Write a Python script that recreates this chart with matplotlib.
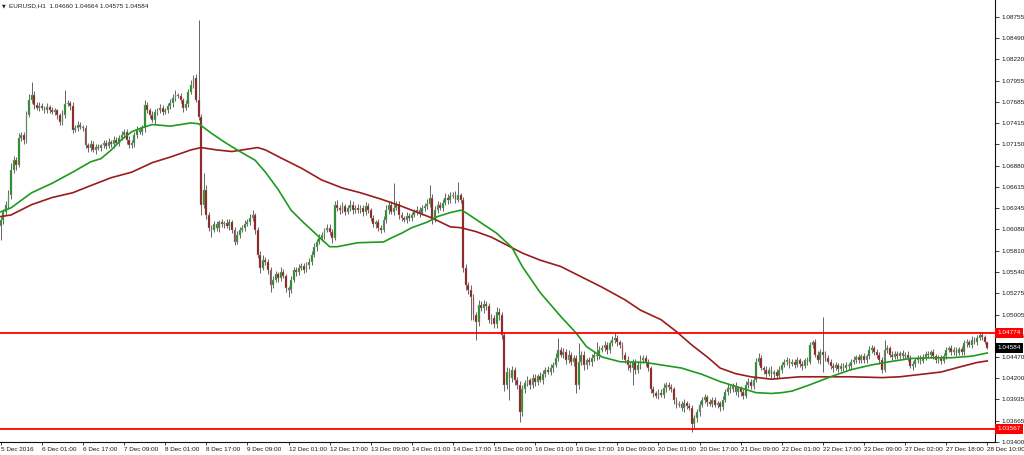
import numpy as np
import matplotlib
matplotlib.use('Agg')
import matplotlib.pyplot as plt
import matplotlib.transforms as mtransforms

plt.rcParams['font.family'] = ['Liberation Sans', 'DejaVu Sans']

header = 'EURUSD,H1  1.04660 1.04664 1.04575 1.04584'

# H1 closes (4 parts, each starts at a time label)
first_open = 1.0612
close_part1 = [  # 5 Dec 09:00 .. 9 Dec 08:00
    1.0620, 1.0630, 1.0639, 1.0651, 1.0683, 1.0695, 1.0689, 1.0723, 1.0727, 1.0721, 1.0752, 1.0771, 1.0777, 1.0765, 1.0761, 1.0763,
    1.0761, 1.0758, 1.0762, 1.0758, 1.0756, 1.0758, 1.0752, 1.0743, 1.0752, 1.0766, 1.0767, 1.0763, 1.0733, 1.0736, 1.0740, 1.0737,
    1.0736, 1.0714, 1.0711, 1.0716, 1.0708, 1.0712, 1.0711, 1.0714, 1.0717, 1.0713, 1.0718, 1.0716, 1.0721, 1.0717, 1.0723, 1.0727,
    1.0731, 1.0721, 1.0714, 1.0717, 1.0727, 1.0733, 1.0731, 1.0736, 1.0765, 1.0758, 1.0752, 1.0746, 1.0756, 1.0758, 1.0761, 1.0756,
    1.0758, 1.0763, 1.0767, 1.0774, 1.0777, 1.0776, 1.0771, 1.0761, 1.0766, 1.0781, 1.0790, 1.0799, 1.0771, 1.0750, 1.0639, 1.0658,
    1.0626, 1.0610, 1.0607, 1.0614, 1.0610, 1.0617, 1.0614, 1.0616, 1.0612, 1.0617, 1.0607, 1.0592, 1.0601, 1.0607, 1.0610, 1.0615,
]
close_part2 = [  # 9 Dec 09:00 .. 15 Dec 08:00
    1.0617, 1.0622, 1.0626, 1.0607, 1.0576, 1.0559, 1.0569, 1.0567, 1.0557, 1.0538, 1.0544, 1.0551, 1.0547, 1.0554, 1.0549, 1.0534,
    1.0532, 1.0544, 1.0557, 1.0554, 1.0559, 1.0562, 1.0557, 1.0563, 1.0567, 1.0576, 1.0585, 1.0592, 1.0597, 1.0601, 1.0607, 1.0610,
    1.0605, 1.0597, 1.0639, 1.0635, 1.0632, 1.0637, 1.0630, 1.0635, 1.0639, 1.0632, 1.0635, 1.0632, 1.0635, 1.0630, 1.0637, 1.0632,
    1.0622, 1.0614, 1.0617, 1.0610, 1.0607, 1.0620, 1.0632, 1.0639, 1.0630, 1.0635, 1.0640, 1.0626, 1.0622, 1.0620, 1.0625, 1.0622,
    1.0626, 1.0630, 1.0632, 1.0629, 1.0635, 1.0637, 1.0640, 1.0648, 1.0620, 1.0632, 1.0639, 1.0635, 1.0641, 1.0648, 1.0645, 1.0650,
    1.0651, 1.0645, 1.0651, 1.0645, 1.0559, 1.0538, 1.0532, 1.0522, 1.0500, 1.0491, 1.0513, 1.0509, 1.0514, 1.0511, 1.0494, 1.0496,
]
close_part3 = [  # 15 Dec 09:00 .. 21 Dec 08:00
    1.0488, 1.0504, 1.0500, 1.0475, 1.0412, 1.0428, 1.0421, 1.0431, 1.0418, 1.0412, 1.0378, 1.0406, 1.0414, 1.0418, 1.0412, 1.0421,
    1.0416, 1.0423, 1.0418, 1.0426, 1.0431, 1.0428, 1.0433, 1.0437, 1.0446, 1.0456, 1.0450, 1.0453, 1.0443, 1.0450, 1.0441, 1.0446,
    1.0412, 1.0441, 1.0450, 1.0437, 1.0443, 1.0441, 1.0446, 1.0450, 1.0448, 1.0456, 1.0458, 1.0462, 1.0456, 1.0464, 1.0469, 1.0471,
    1.0466, 1.0462, 1.0450, 1.0443, 1.0437, 1.0433, 1.0441, 1.0431, 1.0437, 1.0443, 1.0446, 1.0441, 1.0433, 1.0406, 1.0401, 1.0398,
    1.0402, 1.0399, 1.0408, 1.0412, 1.0409, 1.0406, 1.0393, 1.0387, 1.0388, 1.0383, 1.0389, 1.0385, 1.0383, 1.0362, 1.0370, 1.0377,
    1.0387, 1.0393, 1.0396, 1.0390, 1.0388, 1.0393, 1.0387, 1.0389, 1.0384, 1.0393, 1.0403, 1.0408, 1.0406, 1.0411, 1.0403, 1.0408,
]
close_part4 = [  # 21 Dec 09:00 .. 28 Dec 10:00
    1.0403, 1.0398, 1.0412, 1.0416, 1.0411, 1.0418, 1.0441, 1.0446, 1.0433, 1.0431, 1.0426, 1.0431, 1.0425, 1.0428, 1.0423, 1.0431,
    1.0437, 1.0441, 1.0443, 1.0438, 1.0441, 1.0437, 1.0443, 1.0438, 1.0436, 1.0443, 1.0441, 1.0462, 1.0466, 1.0450, 1.0443, 1.0453,
    1.0450, 1.0446, 1.0441, 1.0436, 1.0433, 1.0437, 1.0432, 1.0436, 1.0433, 1.0437, 1.0435, 1.0441, 1.0443, 1.0447, 1.0443, 1.0448,
    1.0443, 1.0448, 1.0456, 1.0458, 1.0453, 1.0450, 1.0443, 1.0431, 1.0456, 1.0458, 1.0450, 1.0447, 1.0451, 1.0448, 1.0452, 1.0448,
    1.0450, 1.0446, 1.0436, 1.0438, 1.0443, 1.0446, 1.0442, 1.0447, 1.0451, 1.0450, 1.0453, 1.0448, 1.0443, 1.0446, 1.0442, 1.0448,
    1.0456, 1.0458, 1.0453, 1.0456, 1.0452, 1.0457, 1.0453, 1.0464, 1.0466, 1.0462, 1.0469, 1.0466, 1.0471, 1.0475, 1.0472, 1.0466,
    1.04584,
]

# wick lengths beyond the body, in pips
up_part1 = [
    3, 4, 5, 6, 8, 5, 4, 6, 4, 3, 5, 8, 16, 5, 4, 6,
    4, 3, 5, 3, 4, 3, 2, 3, 6, 18, 4, 3, 5, 3, 4, 3,
    3, 4, 3, 5, 3, 4, 3, 2, 4, 3, 5, 3, 4, 3, 4, 5,
    4, 3, 5, 4, 3, 5, 4, 3, 6, 4, 3, 5, 4, 3, 5, 4,
    3, 4, 5, 4, 6, 3, 4, 3, 5, 4, 6, 4, 5, 101, 3, 21,
    6, 4, 3, 5, 4, 3, 4, 3, 5, 4, 3, 4, 5, 4, 3, 5,
]
up_part2 = [
    4, 5, 6, 3, 4, 5, 6, 4, 3, 4, 5, 4, 3, 6, 4, 3,
    3, 5, 4, 3, 5, 4, 3, 4, 5, 4, 6, 4, 5, 4, 3, 5,
    4, 3, 5, 6, 4, 5, 3, 4, 6, 4, 3, 5, 4, 3, 5, 4,
    3, 4, 3, 4, 3, 5, 6, 4, 5, 31, 4, 3, 4, 3, 5, 4,
    4, 3, 5, 4, 3, 4, 6, 16, 4, 5, 4, 3, 5, 6, 4, 5,
    4, 5, 17, 3, 4, 5, 4, 6, 5, 4, 6, 4, 5, 3, 4, 5,
]
up_part3 = [
    4, 6, 5, 4, 3, 6, 5, 4, 3, 4, 5, 6, 4, 5, 3, 4,
    4, 3, 5, 4, 3, 4, 5, 4, 6, 15, 4, 5, 4, 6, 3, 4,
    3, 24, 5, 4, 3, 4, 5, 4, 16, 5, 4, 5, 4, 3, 5, 6,
    4, 3, 4, 3, 5, 4, 3, 4, 5, 6, 4, 3, 4, 3, 4, 3,
    4, 5, 6, 4, 3, 4, 3, 4, 3, 4, 5, 3, 4, 3, 4, 5,
    4, 3, 4, 3, 4, 3, 4, 3, 3, 5, 4, 5, 4, 3, 4, 3,
]
up_part4 = [
    3, 4, 5, 4, 3, 4, 5, 6, 4, 3, 4, 3, 4, 3, 4, 5,
    4, 3, 4, 3, 4, 3, 4, 3, 4, 3, 4, 4, 3, 4, 5, 4,
    45, 4, 3, 4, 3, 4, 3, 4, 3, 4, 3, 4, 5, 3, 4, 3,
    4, 3, 5, 4, 3, 4, 3, 4, 13, 4, 3, 4, 3, 4, 3, 4,
    3, 4, 3, 4, 3, 4, 3, 4, 3, 4, 3, 4, 3, 4, 3, 4,
    4, 3, 4, 3, 4, 3, 4, 5, 4, 3, 4, 3, 4, 4, 3, 3,
    0.4,
]
down_part1 = [
    17, 5, 4, 6, 5, 4, 6, 3, 4, 5, 4, 3, 4, 5, 3, 4,
    3, 4, 3, 4, 3, 4, 5, 4, 3, 4, 3, 5, 4, 3, 4, 3,
    4, 3, 5, 4, 3, 5, 3, 4, 3, 4, 3, 4, 5, 3, 4, 3,
    4, 5, 4, 3, 5, 4, 3, 4, 5, 3, 4, 3, 5, 4, 3, 4,
    3, 4, 3, 5, 4, 3, 4, 5, 3, 4, 3, 4, 3, 4, 13, 4,
    5, 4, 9, 3, 4, 5, 3, 4, 3, 5, 4, 4, 3, 4, 3, 4,
]
down_part2 = [
    3, 4, 3, 5, 4, 6, 3, 4, 5, 9, 4, 3, 5, 4, 3, 5,
    9, 4, 3, 5, 4, 3, 4, 3, 5, 4, 3, 4, 3, 4, 5, 3,
    4, 6, 3, 4, 5, 3, 4, 3, 4, 5, 3, 4, 3, 5, 4, 3,
    4, 3, 5, 4, 4, 3, 4, 5, 3, 4, 3, 5, 4, 3, 4, 3,
    4, 3, 4, 5, 3, 4, 3, 4, 5, 3, 4, 3, 4, 3, 5, 4,
    3, 4, 3, 4, 5, 6, 5, 28, 6, 22, 5, 4, 6, 5, 4, 5,
]
down_part3 = [
    5, 4, 6, 5, 8, 6, 28, 5, 6, 5, 13, 6, 5, 4, 5, 4,
    5, 4, 3, 5, 4, 3, 4, 5, 3, 4, 3, 4, 5, 3, 4, 5,
    10, 5, 4, 6, 5, 4, 5, 4, 5, 4, 3, 4, 5, 4, 3, 4,
    5, 4, 5, 4, 6, 5, 21, 6, 4, 5, 4, 5, 4, 5, 4, 3,
    4, 3, 4, 5, 4, 3, 5, 4, 3, 4, 5, 4, 3, 9, 4, 5,
    4, 3, 4, 5, 3, 4, 3, 4, 5, 4, 3, 4, 5, 3, 4, 6,
]
down_part4 = [
    5, 4, 3, 4, 5, 4, 3, 4, 3, 5, 4, 3, 4, 5, 4, 3,
    4, 3, 4, 5, 3, 4, 3, 4, 5, 3, 4, 3, 4, 3, 4, 5,
    22, 4, 3, 4, 5, 3, 4, 3, 4, 3, 4, 5, 3, 4, 3, 4,
    3, 4, 3, 4, 3, 4, 5, 4, 3, 4, 3, 4, 3, 4, 3, 4,
    3, 4, 3, 5, 4, 3, 4, 3, 4, 3, 4, 3, 4, 3, 4, 3,
    4, 3, 4, 3, 4, 3, 4, 3, 4, 3, 4, 3, 4, 3, 4, 3,
    0.9,
]

# moving averages, read at sample bars
ma_fast_bar = [0, 4, 12, 20, 28, 35, 39, 43, 47, 51, 55, 59, 66, 74, 77, 82, 87, 92, 99, 103,
               108, 113, 118, 124, 128, 131, 139, 149, 152, 156, 160, 166, 170, 175, 179, 181, 187, 193, 199, 203,
               210, 218, 224, 228, 234, 241, 251, 257, 265, 273, 280, 288, 294, 300, 304, 308, 315, 323, 331, 339,
               346, 354, 362, 370, 378, 384]
ma_fast = [1.0630, 1.0635, 1.0654, 1.0666, 1.0680, 1.0693, 1.0697, 1.0708, 1.0721, 1.0731, 1.0736, 1.0740, 1.0738, 1.0742, 1.0741, 1.0729, 1.0718, 1.0708, 1.0695, 1.0680,
           1.0658, 1.0632, 1.0616, 1.0598, 1.0586, 1.0586, 1.0591, 1.0592, 1.0597, 1.0603, 1.0610, 1.0617, 1.0624, 1.0629, 1.0632, 1.0629, 1.0616, 1.0603, 1.0585, 1.0561,
           1.0528, 1.0498, 1.0477, 1.0460, 1.0447, 1.0441, 1.0440, 1.0437, 1.0433, 1.0425, 1.0416, 1.0408, 1.0402, 1.0401, 1.0402, 1.0404, 1.0412, 1.0422, 1.0431, 1.0437,
           1.0441, 1.0445, 1.0446, 1.0446, 1.0448, 1.0452]
ma_slow_bar = [0, 4, 12, 20, 28, 35, 43, 51, 59, 66, 74, 78, 84, 90, 96, 100, 103, 109, 117, 125,
               133, 140, 148, 156, 160, 168, 175, 179, 185, 191, 197, 203, 210, 218, 226, 234, 243, 249, 257, 263,
               269, 275, 280, 286, 292, 300, 311, 331, 343, 350, 358, 366, 374, 380, 384]
ma_slow = [1.0624, 1.0626, 1.0639, 1.0648, 1.0654, 1.0663, 1.0673, 1.0680, 1.0692, 1.0699, 1.0708, 1.0711, 1.0708, 1.0706, 1.0709, 1.0711, 1.0708, 1.0698, 1.0685, 1.0670,
           1.0660, 1.0654, 1.0646, 1.0637, 1.0632, 1.0622, 1.0611, 1.0610, 1.0605, 1.0598, 1.0588, 1.0578, 1.0569, 1.0561, 1.0548, 1.0535, 1.0519, 1.0506, 1.0494, 1.0479,
           1.0462, 1.0447, 1.0433, 1.0426, 1.0422, 1.0419, 1.0422, 1.0422, 1.0421, 1.0422, 1.0425, 1.0428, 1.0435, 1.0440, 1.0442]

levels = [1.04774, 1.03567]
last_price = 1.04584

y_ticks = [1.08755, 1.08490, 1.08220, 1.07955, 1.07685, 1.07415, 1.07150, 1.06880, 1.06615, 1.06345,
           1.06080, 1.05810, 1.05540, 1.05275, 1.05005, 1.04735, 1.04470, 1.04200, 1.03935, 1.03665, 1.03400]
x_labels = ['5 Dec 2016', '6 Dec 01:00', '6 Dec 17:00', '7 Dec 09:00', '8 Dec 01:00', '8 Dec 17:00',
            '9 Dec 09:00', '12 Dec 01:00', '12 Dec 17:00', '13 Dec 09:00', '14 Dec 01:00', '14 Dec 17:00',
            '15 Dec 09:00', '16 Dec 01:00', '16 Dec 17:00', '19 Dec 09:00', '20 Dec 01:00', '20 Dec 17:00',
            '21 Dec 09:00', '22 Dec 01:00', '22 Dec 17:00', '23 Dec 09:00', '27 Dec 02:00', '27 Dec 18:00',
            '28 Dec 10:00']

close = np.array(close_part1 + close_part2 + close_part3 + close_part4)
up = np.array(up_part1 + up_part2 + up_part3 + up_part4) / 10000.0
down = np.array(down_part1 + down_part2 + down_part3 + down_part4) / 10000.0
opens = np.concatenate([[first_open], close[:-1]])
highs = np.maximum(opens, close) + up
lows = np.minimum(opens, close) - down
bars = np.arange(len(close))

fig = plt.figure(figsize=(10.24, 4.55), dpi=100)
ax = fig.add_axes([0, 13 / 455, 995 / 1024, 442 / 455])

ax.vlines(bars, lows, highs, color='#4a4a4a', lw=0.6, zorder=2)
bull = close >= opens
bear = ~bull
ax.bar(bars[bull], close[bull] - opens[bull], bottom=opens[bull], width=0.72,
       color='#168a16', edgecolor='#a5a5a5', lw=0.3, zorder=3)
ax.bar(bars[bear], opens[bear] - close[bear], bottom=close[bear], width=0.72,
       color='#8c0a0a', edgecolor='#a5a5a5', lw=0.3, zorder=3)

ax.plot(ma_slow_bar, ma_slow, color='#9a1c1c', lw=1.2, zorder=4)
ax.plot(ma_fast_bar, ma_fast, color='#1e9a1e', lw=1.2, zorder=4)

for lv in levels:
    ax.axhline(lv, color='#ff0000', lw=1.3, zorder=5)

ax.set_xlim(-0.3, 387.0)
ax.set_ylim(1.03398, 1.0897)

ax.yaxis.tick_right()
ax.set_yticks(y_ticks)
ax.set_yticklabels(['%.5f' % v for v in y_ticks])
ax.tick_params(axis='y', length=3, width=0.6, pad=2, labelsize=4.6, colors='#1a1a1a')
ax.set_xticks(range(0, 385, 16))
ax.set_xticklabels(x_labels, ha='left')
ax.tick_params(axis='x', length=2.5, width=0.6, pad=0.8, labelsize=4.6, colors='#1a1a1a')

for side in ['top', 'left']:
    ax.spines[side].set_visible(False)
for side in ['right', 'bottom']:
    ax.spines[side].set_color('#101010')
    ax.spines[side].set_linewidth(0.8)

trans = mtransforms.blended_transform_factory(ax.transAxes, ax.transData)
for lv in levels:
    ax.text(1.0025, lv, '%.5f' % lv, transform=trans, ha='left', va='center', color='white',
            fontsize=4.6, clip_on=False, zorder=6,
            bbox=dict(boxstyle='square,pad=0.4', fc='#ff0000', ec='none'))
ax.text(1.0025, last_price, '%.5f' % last_price, transform=trans, ha='left', va='center', color='white',
        fontsize=4.6, clip_on=False, zorder=6,
        bbox=dict(boxstyle='square,pad=0.4', fc='black', ec='none'))

fig.text(2 / 1024, 1 - 6 / 455, '\u25bc', fontsize=3.5, va='center', color='#202020',
         family=['DejaVu Sans'])
fig.text(9 / 1024, 1 - 6 / 455, header, fontsize=4.6, va='center', color='#202020')

fig.savefig('out.png', dpi=100)
